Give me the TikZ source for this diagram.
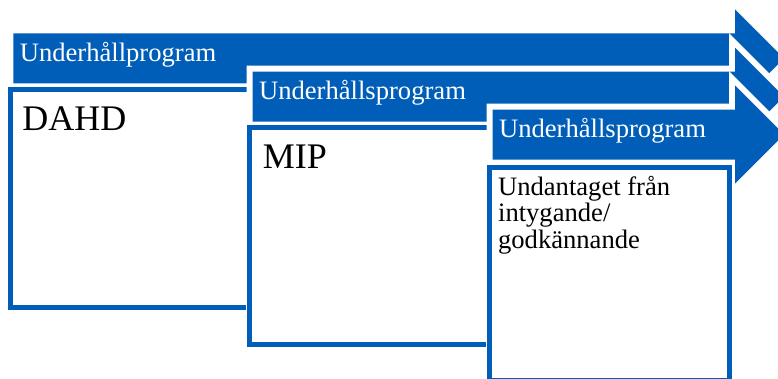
\documentclass[tikz,border=0pt]{standalone}
\usepackage{fontspec}
\setmainfont{Liberation Serif}
\definecolor{sblue}{RGB}{0,94,184}
\begin{document}
\begin{tikzpicture}[x=1pt,y=-1pt,
  arrowfill/.style={preaction={draw=white,line width=12pt,line join=miter},fill=sblue},
  boxframe/.style={preaction={draw=white,line width=7pt},draw=sblue,line width=5pt,fill=white},
  arrowlabel/.style={text=white,inner sep=0pt,anchor=base west,font=\fontsize{26.6}{26.7}\selectfont},
  bigtext/.style={text=black,inner sep=0pt,anchor=base west,font=\fontsize{36}{40}\selectfont},
  boxtext/.style={text=black,inner sep=0pt,anchor=base west,align=left,font=\fontsize{26.6}{26.7}\selectfont}]
\useasboundingbox (0,0) rectangle (778,378);
\clip (0,0) rectangle (778,378);
% step 1
\path[arrowfill] (13.3,33.3) -- (735,33.3) -- (735,9.3) -- (784,58.3) -- (735,107.3) -- (735,83.3) -- (13.3,83.3) -- cycle;
\node[arrowlabel] (a1) at (19.6,61.7) {Underhållprogram};
\path[boxframe] (10.8,89.2) rectangle (250.8,307.5);
\node[bigtext] (b1) at (22.1,130) {DAHD};
% step 2
\path[arrowfill] (252.7,71.7) -- (735,71.7) -- (735,47.7) -- (784,96.7) -- (735,145.7) -- (735,121.7) -- (252.7,121.7) -- cycle;
\node[arrowlabel] (a2) at (258.9,99.3) {Underhållsprogram};
\path[boxframe] (249.8,127.5) rectangle (489.8,344.8);
\node[bigtext] (b2) at (262.6,168.3) {MIP};
% step 3
\path[arrowfill] (492.7,109.5) -- (735,109.5) -- (735,85.5) -- (784,134.5) -- (735,183.5) -- (735,159.5) -- (492.7,159.5) -- cycle;
\node[arrowlabel] (a3) at (498.9,137.3) {Underhållsprogram};
\path[boxframe] (489.8,167.5) rectangle (729.8,380);
\node[boxtext] (b3) at (497.9,248.4) {Undantaget från\\intygande/\\godkännande};
\end{tikzpicture}
\end{document}
